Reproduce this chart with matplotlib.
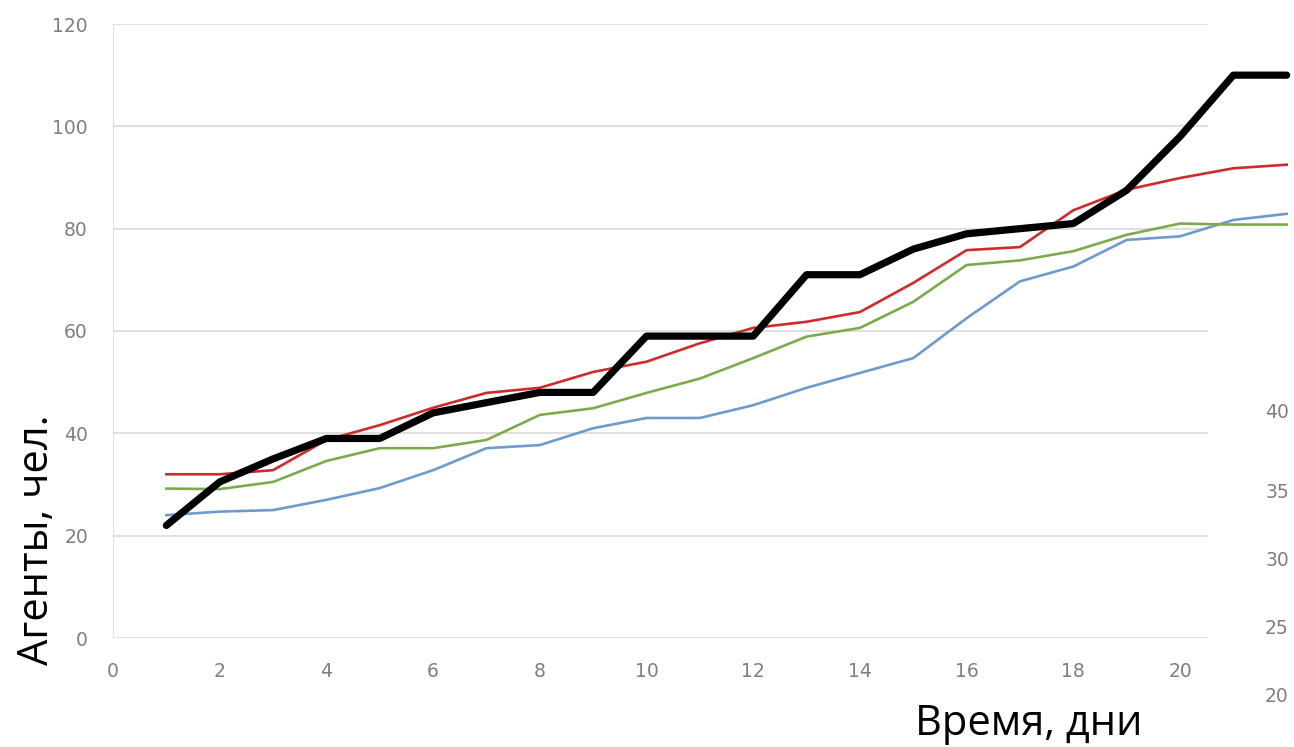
import matplotlib
matplotlib.use("Agg")
import matplotlib.pyplot as plt

# Days
days = list(range(1, 23))

# Agent counts per scenario
black_vals = [22, 30.5, 35, 39, 39, 44, 46, 48, 48, 59, 59, 59, 71, 71, 76, 79, 80, 81, 87.5, 98, 110, 110]
red_vals = [32, 32, 32.8, 38.7, 41.6, 45, 47.9, 48.9, 52, 54, 57.6, 60.6, 61.8, 63.7, 69.4, 75.8, 76.4, 83.6, 87.6, 89.9, 91.8, 92.5]
green_vals = [29.2, 29.1, 30.5, 34.6, 37.1, 37.1, 38.7, 43.6, 44.9, 47.9, 50.7, 54.7, 58.9, 60.6, 65.7, 72.9, 73.8, 75.6, 78.8, 81, 80.8, 80.8]
blue_vals = [24, 24.7, 25, 27, 29.3, 32.8, 37.1, 37.7, 41, 43, 43, 45.5, 48.9, 51.8, 54.7, 62.5, 69.7, 72.6, 77.8, 78.5, 81.7, 82.9]

y_ticks = [0, 20, 40, 60, 80, 100, 120]
x_ticks = [0, 2, 4, 6, 8, 10, 12, 14, 16, 18, 20]
side_ticks = ["40", "35", "30", "25", "20"]

W, H = 1294, 747
fig = plt.figure(figsize=(W / 100, H / 100), dpi=100)
fig.patch.set_facecolor("white")

ax_left, ax_bottom = 113 / W, (H - 638) / H
ax_w, ax_h = (W - 113) / W, (638 - 24) / H
ax = fig.add_axes([ax_left, ax_bottom, ax_w, ax_h])
ax.set_xlim(0, (W - 113) / 53.35)
ax.set_ylim(0, 120)
ax.patch.set_alpha(0)

grid_end = 20.53
ax.hlines(y_ticks, 0, grid_end, colors="#d9d9d9", linewidth=1.2, zorder=0)
ax.vlines(0, 0, 120, colors="#d9d9d9", linewidth=1.2, zorder=0)

for s in ax.spines.values():
    s.set_visible(False)

ax.plot(days, blue_vals, color="#6e9bcb", linewidth=1.9, solid_joinstyle="round", zorder=2)
ax.plot(days, green_vals, color="#7cab4c", linewidth=1.9, solid_joinstyle="round", zorder=3)
ax.plot(days, red_vals, color="#cf2a2e", linewidth=1.9, solid_joinstyle="round", zorder=4)
ax.plot(days, black_vals, color="black", linewidth=5.2, solid_joinstyle="round",
        solid_capstyle="round", zorder=5)

ax.set_yticks(y_ticks)
ax.set_yticklabels([str(v) for v in y_ticks])
ax.set_xticks(x_ticks)
ax.set_xticklabels([str(v) for v in x_ticks])
ax.tick_params(axis="both", length=0, labelsize=13.5, labelcolor="#7f7f7f")
ax.tick_params(axis="y", pad=18)
ax.tick_params(axis="x", pad=17)

fig.text(37 / W, 1 - 540 / H, "Агенты, чел.", rotation=90, ha="center", va="center",
         fontsize=30, family="Open Sans", color="black")
fig.text(1029 / W, 1 - 735 / H, "Время, дни", ha="center", va="baseline",
         fontsize=30, family="Open Sans", color="black")

# Scale of the adjoining panel on the right
side_y = [413, 492, 560, 628, 697]
for lab, py in zip(side_ticks, side_y):
    fig.text(1277 / W, 1 - py / H, lab, ha="center", va="center",
             fontsize=13.5, color="#7f7f7f")

fig.savefig("out.png", dpi=100, facecolor="white")
